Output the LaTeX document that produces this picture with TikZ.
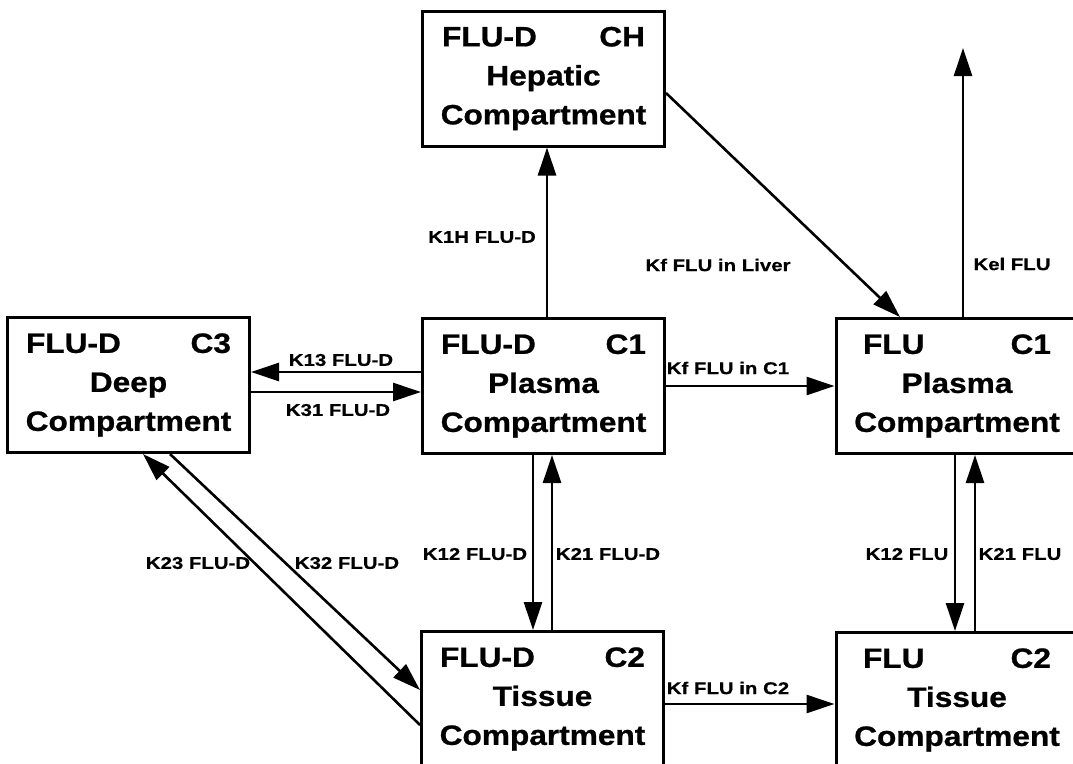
\documentclass[tikz,border=0pt]{standalone}
\usepackage{fontspec}
\setmainfont{Liberation Sans}[FakeStretch=1.13,FakeBold=0.8]
\newfontfamily\labfont{Liberation Sans}[FakeStretch=1.2,FakeBold=0.5]
\usetikzlibrary{arrows.meta}
\tikzset{
  box/.style={draw, line width=3pt, rectangle, minimum width=242pt, minimum height=135pt,
    inner sep=0pt, align=center, font=\fontsize{28}{39}\selectfont\bfseries},
  arr/.style={line width=2.6pt, -{Triangle[length=28pt,width=18pt]}},
  lab/.style={inner sep=1pt, font=\labfont\fontsize{17}{20}\selectfont\bfseries}
}
\begin{document}
\begin{tikzpicture}[x=1pt,y=-1pt]
\useasboundingbox[fill=white] (0,0) rectangle (1073,763);
% boxes
\node[box] (hep) at (543.5,78.5) {\makebox[203pt]{FLU-D\hfill CH}\\Hepatic\\Compartment};
\node[box] (deep) at (128.5,385) {\makebox[205pt]{FLU-D\hfill C3}\\Deep\\Compartment};
\node[box] (pd) at (543.5,386) {\makebox[205pt]{FLU-D\hfill C1}\\Plasma\\Compartment};
\node[box] (pf) at (957,386) {\makebox[188pt]{FLU\hfill C1}\\Plasma\\Compartment};
\node[box] (td) at (542.5,699) {\makebox[205pt]{FLU-D\hfill C2}\\Tissue\\Compartment};
\node[box] (tf) at (957,700) {\makebox[188pt]{FLU\hfill C2}\\Tissue\\Compartment};
\coordinate (kel) at (963,48);
% connectors
\draw[arr] ([xshift=3.5pt]pd.north) -- ([xshift=3.5pt]hep.south);
\draw[arr] ([yshift=-14.5pt]hep.east) -- ([xshift=-57pt]pf.north);
\draw[arr] ([xshift=6pt]pf.north) -- (kel);
\draw[arr] ([yshift=14pt]pd.west) -- ([yshift=13pt]deep.east);
\draw[arr] ([yshift=-7pt]deep.east) -- ([yshift=-6pt]pd.west);
\draw[arr] (pd.east) -- (pf.west);
\draw[arr] ([xshift=-10.5pt]pd.south) -- ([xshift=-9.5pt]td.north);
\draw[arr] ([xshift=9.5pt]td.north) -- ([xshift=8.5pt]pd.south);
\draw[arr] ([xshift=-2pt]pf.south) -- ([xshift=-2pt]tf.north);
\draw[arr] ([xshift=18pt]tf.north) -- ([xshift=18pt]pf.south);
\draw[arr] ([yshift=-26pt]td.west) -- ([xshift=14.5pt]deep.south);
\draw[arr] ([xshift=41.5pt]deep.south) -- ([yshift=9pt]td.west);
\draw[arr] ([yshift=-5pt]td.east) -- ([yshift=-4pt]tf.west);
% labels
\node[lab] (l1h) at (482,237) {K1H FLU-D};
\node[lab] (lliv) at (718,265) {Kf FLU in Liver};
\node[lab] (lkel) at (1012,264) {Kel FLU};
\node[lab] (l13) at (341,360) {K13 FLU-D};
\node[lab] (l31) at (338,410) {K31 FLU-D};
\node[lab] (lc1) at (728,368) {Kf FLU in C1};
\node[lab] (l12d) at (475,554) {K12 FLU-D};
\node[lab] (l21d) at (608,554) {K21 FLU-D};
\node[lab] (l12f) at (907,554) {K12 FLU};
\node[lab] (l21f) at (1020,554) {K21 FLU};
\node[lab] (l23) at (198,563) {K23 FLU-D};
\node[lab] (l32) at (347,563) {K32 FLU-D};
\node[lab] (lc2) at (728,688) {Kf FLU in C2};
\end{tikzpicture}
\end{document}
